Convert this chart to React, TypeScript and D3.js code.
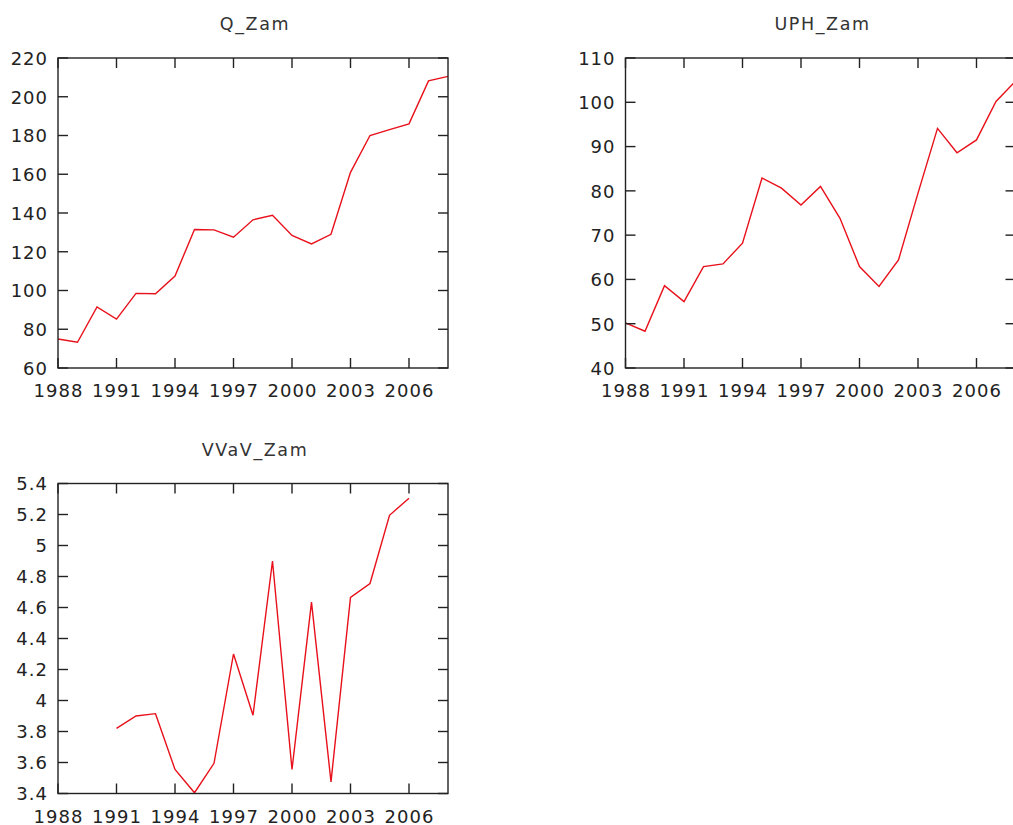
import React from "react";
import * as d3 from "d3";

const years = d3.range(1988, 2009);
const qZam = [75, 73.3, 91.5, 85.2, 98.5, 98.3, 107.5, 131.5, 131.3, 127.5, 136.5, 138.8, 128.4, 124, 129, 161, 180, 183, 186, 208.2, 210.5];
const uphZam = [50.2, 48.3, 58.6, 55, 62.9, 63.5, 68.2, 82.9, 80.6, 76.8, 81, 73.8, 62.9, 58.4, 64.4, 79.5, 94.1, 88.6, 91.5, 100.2, 104.8];
const vvavYears = d3.range(1991, 2007);
const vvavZam = [3.82, 3.9, 3.915, 3.555, 3.405, 3.595, 4.30, 3.905, 4.90, 3.555, 4.635, 3.475, 4.665, 4.755, 5.195, 5.305];

const xTicks = [1988, 1991, 1994, 1997, 2000, 2003, 2006];
const qTicks = [60, 80, 100, 120, 140, 160, 180, 200, 220];
const uphTicks = [40, 50, 60, 70, 80, 90, 100, 110];
const vvavTicks = [3.4, 3.6, 3.8, 4, 4.2, 4.4, 4.6, 4.8, 5, 5.2, 5.4];

type PanelProps = {
  title: string;
  left: number;
  top: number;
  xs: number[];
  ys: number[];
  yDomain: [number, number];
  yTicks: number[];
};

const W = 390;
const H = 310;
const FONT = "'DejaVu Sans', Verdana, sans-serif";
const FS = 18;
const LS = 1;
const TICK = 10;
const AXIS = "#222";

function Panel({ title, left, top, xs, ys, yDomain, yTicks }: PanelProps) {
  const x = d3.scaleLinear().domain([1988, 2008]).range([0, W]);
  const y = d3.scaleLinear().domain(yDomain).range([H, 0]);
  const line = d3
    .line<number>()
    .x((_, i) => x(xs[i]))
    .y((d) => y(d));
  const fmt = (v: number) => d3.format("~g")(v);
  return (
    <g transform={`translate(${left},${top})`}>
      <text x={W / 2 + 2} y={-28} textAnchor="middle" fontFamily={FONT} fontSize={FS - 0.5} letterSpacing={1.6} fill="#333">
        {title}
      </text>
      <path d={line(ys) || ""} fill="none" stroke="#e8101a" strokeWidth={1.4} />
      <rect x={0} y={0} width={W} height={H} fill="none" stroke={AXIS} strokeWidth={1.4} />
      {xTicks.map((t) => (
        <g key={"x" + t}>
          <line x1={x(t)} x2={x(t)} y1={H} y2={H - TICK} stroke={AXIS} strokeWidth={1.4} />
          <line x1={x(t)} x2={x(t)} y1={0} y2={TICK} stroke={AXIS} strokeWidth={1.4} />
          <text x={x(t) + LS / 2} y={H + 29} textAnchor="middle" fontFamily={FONT} fontSize={FS} letterSpacing={LS} fill="#222">
            {t}
          </text>
        </g>
      ))}
      {yTicks.map((t) => (
        <g key={"y" + t}>
          <line x1={0} x2={TICK} y1={y(t)} y2={y(t)} stroke={AXIS} strokeWidth={1.4} />
          <line x1={W} x2={W - TICK} y1={y(t)} y2={y(t)} stroke={AXIS} strokeWidth={1.4} />
          <text x={-10} y={y(t)} dy="0.38em" textAnchor="end" fontFamily={FONT} fontSize={FS} letterSpacing={LS} fill="#222">
            {fmt(t)}
          </text>
        </g>
      ))}
    </g>
  );
}

export default function App() {
  return (
    <svg
      width={1013}
      height={825}
      style={{ position: "absolute", left: 0, top: 0, background: "#fff" }}
    >
      <rect width={1013} height={825} fill="#fff" />
      <Panel title="Q_Zam" left={58} top={58} xs={years} ys={qZam} yDomain={[60, 220]} yTicks={qTicks} />
      <Panel title="UPH_Zam" left={625.5} top={58} xs={years} ys={uphZam} yDomain={[40, 110]} yTicks={uphTicks} />
      <Panel title="VVaV_Zam" left={58} top={483.5} xs={vvavYears} ys={vvavZam} yDomain={[3.4, 5.4]} yTicks={vvavTicks} />
    </svg>
  );
}
